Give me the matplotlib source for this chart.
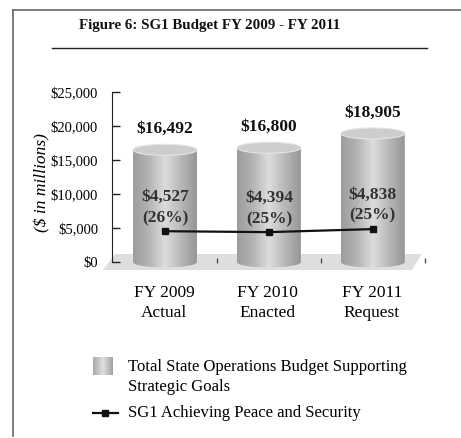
import numpy as np
import matplotlib
matplotlib.use("Agg")
import matplotlib.pyplot as plt
from matplotlib.patches import Ellipse, PathPatch, Polygon
from matplotlib.path import Path
from matplotlib.colors import LinearSegmentedColormap

plt.rcParams['font.family'] = ['Liberation Serif', 'DejaVu Serif']

# budget data ($ in millions)
years = ["FY 2009\nActual", "FY 2010\nEnacted", "FY 2011\nRequest"]
total_budget = [16492, 16800, 18905]
sg1_budget = [4527, 4394, 4838]
sg1_share = [26, 25, 25]
y_ticks = [0, 5000, 10000, 15000, 20000, 25000]

W, H = 461, 438
fig = plt.figure(figsize=(W / 100, H / 100), dpi=100)

# page-sized overlay in pixel units for the frame, title and legend
deco = fig.add_axes([0, 0, 1, 1])
deco.axis('off')

deco.plot([13, W], [10, 10], color='#666666', lw=1.2)
deco.plot([13, 13], [10, 436], color='#666666', lw=1.2)
deco.text(210, 26, "Figure 6: SG1 Budget FY 2009 - FY 2011", ha='center', va='center',
          fontsize=10.8, fontweight='bold', color='#111111')
deco.plot([52, 427], [48, 48], color='#222222', lw=1)

# main chart area
y_min, y_max = -1500, 25000
x_min, x_max = -0.51, 2.55
left_px, right_px, top_px = 112, 430, 92
bottom_px = 262 + 1500 * 170 / 25000
ax = fig.add_axes([left_px / W, (H - bottom_px) / H,
                   (right_px - left_px) / W, (bottom_px - top_px) / H])
ax.patch.set_visible(False)
for s in ['top', 'right', 'bottom']:
    ax.spines[s].set_visible(False)
ax.spines['left'].set_bounds(0, 25000)
ax.spines['left'].set_color('#222222')
ax.set_xticks([])
ax.set_yticks(y_ticks)
ax.set_yticklabels(["${:,}".format(v) for v in y_ticks])
ax.tick_params(axis='y', direction='in', length=5.5, width=1, pad=10,
               labelsize=10.5, color='#222222')
ax.set_ylabel("($ in millions)", fontsize=12.5, style='italic', labelpad=0)

# grey floor
floor = Polygon([(-0.48, 1176), (2.47, 1176), (2.375, -1176), (-0.596, -1176)],
                closed=True, facecolor='#dedede', edgecolor='none', zorder=1, clip_on=False)
ax.add_patch(floor)
ax.vlines([0.5, 1.5, 2.5], -150, 600, color='#555555', lw=1, zorder=1.5)

# cylinders
body_cmap = LinearSegmentedColormap.from_list(
    'cyl', ['#9c9c9c', '#b4b4b4', '#dcdcdc', '#b8b8b8', '#969696'])
grad = np.linspace(0, 1, 256).reshape(1, -1)
cw = 0.615
ch = 11 / 170 * 25000

xs = np.arange(len(total_budget))
for x, v in zip(xs, total_budget):
    t = np.linspace(np.pi, 2 * np.pi, 40)
    verts = [(x - cw / 2, v), (x - cw / 2, 0)]
    verts += list(zip(x + cw / 2 * np.cos(t), ch / 2 * np.sin(t)))
    verts += [(x + cw / 2, v), (x - cw / 2, v)]
    codes = [Path.MOVETO] + [Path.LINETO] * (len(verts) - 2) + [Path.CLOSEPOLY]
    clip = PathPatch(Path(verts, codes), facecolor='none', edgecolor='none',
                     transform=ax.transData)
    ax.add_patch(clip)
    im = ax.imshow(grad, cmap=body_cmap, aspect='auto', zorder=2,
                   extent=(x - cw / 2, x + cw / 2, -ch / 2, v))
    im.set_clip_path(clip)
    ax.add_patch(Ellipse((x, v), cw, ch, facecolor='#cdcdcd', edgecolor='#e4e4e4',
                         lw=0.8, zorder=3))
    ax.annotate("${:,}".format(v), (x, v), xytext=(0, 15), textcoords='offset points',
                ha='center', va='center', fontsize=12.5, fontweight='bold', color='#111111')

ax.set_xlim(x_min, x_max)
ax.set_ylim(y_min, y_max)

# SG1 line
ax.plot(xs, sg1_budget, color='#111111', lw=1.6, marker='s', markersize=4.5, zorder=5)
for x, v, p in zip(xs, sg1_budget, sg1_share):
    ax.annotate("${:,}\n({}%)".format(v, p), (x, v), xytext=(0, 17),
                textcoords='offset points', ha='center', va='center', fontsize=12.5,
                fontweight='bold', color='#333333', linespacing=1.4, zorder=6)

# category labels
for x, lab in zip(xs, years):
    ax.text(x - 0.01, y_min - 1900, lab, ha='center', va='top',
            fontsize=12.5, linespacing=1.35)

# legend
leg_cmap = LinearSegmentedColormap.from_list('leg', ['#a8a8a8', '#e0e0e0', '#a0a0a0'])
deco.imshow(grad, cmap=leg_cmap, aspect='auto', extent=(93, 112, 375, 357), zorder=2)
deco.text(128, 367, "Total State Operations Budget Supporting", va='center', fontsize=12)
deco.text(128, 387, "Strategic Goals", va='center', fontsize=12)
deco.plot([93, 118], [413, 413], color='#111111', lw=1.6)
deco.plot([105], [413], marker='s', markersize=5, color='#111111')
deco.text(128, 413, "SG1 Achieving Peace and Security", va='center', fontsize=12)
deco.set_xlim(0, W)
deco.set_ylim(H, 0)

fig.savefig("out.png", dpi=100)
